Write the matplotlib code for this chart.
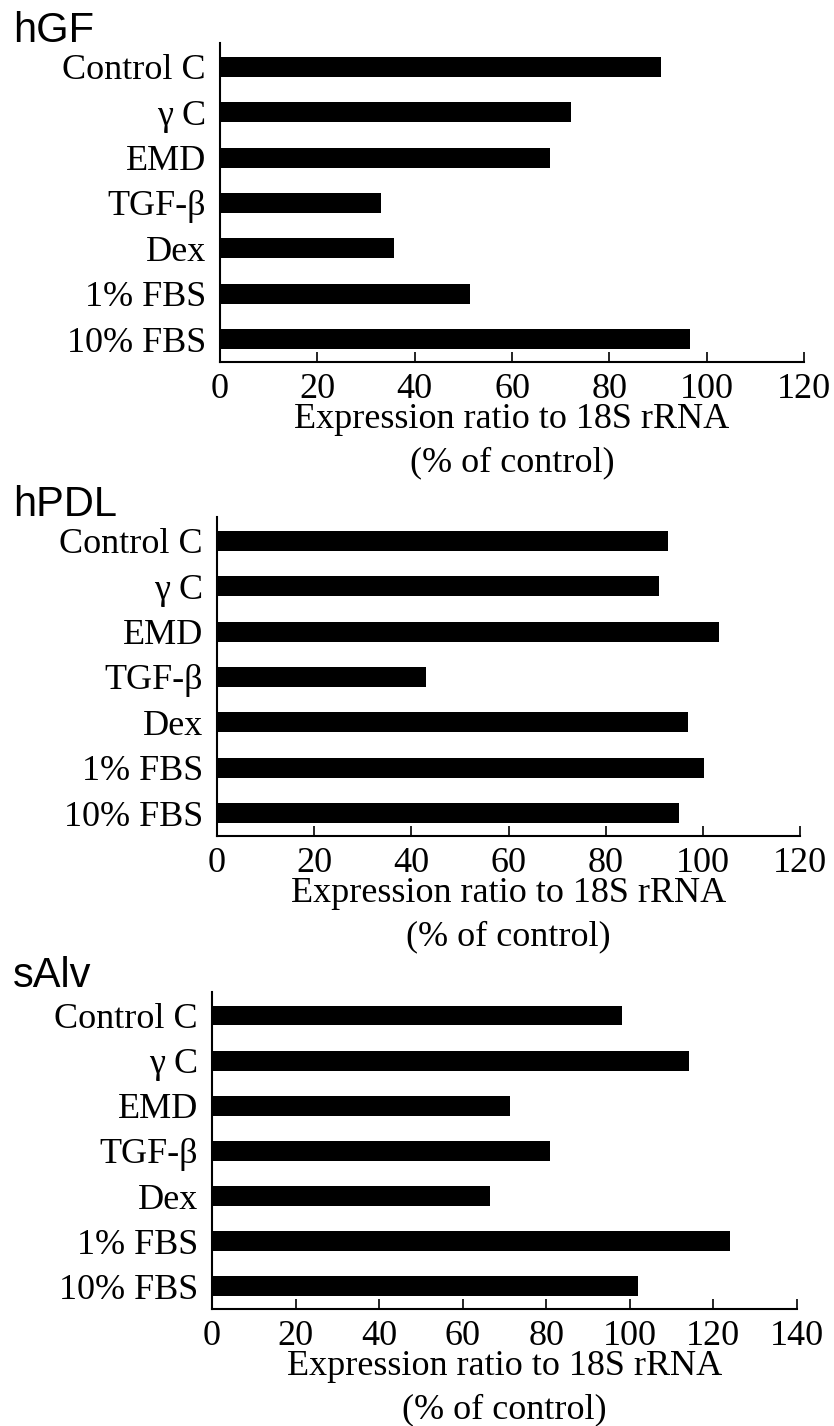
import numpy as np
import matplotlib.pyplot as plt

#--------------------------------------
treatments = ["Control C", "\u03b3 C", "EMD", "TGF-\u03b2", "Dex", "1% FBS", "10% FBS"]

hgf = [90.7, 72.2, 67.8, 33.1, 35.7, 51.3, 96.5]
hpdl = [92.9, 91.0, 103.4, 43.0, 96.9, 100.3, 95.1]
salv = [98.2, 114.2, 71.2, 81.0, 66.6, 124.0, 101.9]

panel_names = ["hGF", "hPDL", "sAlv"]
xmax = [120, 120, 140]
xlabel = "Expression ratio to 18S rRNA\n(% of control)"

#--------------------------------------
W, H = 834, 1426
plt.rcParams['font.family'] = ['Liberation Serif', 'DejaVu Serif']

fig = plt.figure(figsize=(W / 100, H / 100), dpi=100)

# axes boxes in pixels: left, right, top, bottom
boxes = [(220, 804, 43, 362),
         (217, 800, 517, 836),
         (212, 797, 992, 1309)]
title_base = [42, 516, 987]

for vals, name, xm, box, tb in zip([hgf, hpdl, salv], panel_names, xmax, boxes, title_base):
    l, r, t, b = box
    ax = fig.add_axes([l / W, 1 - b / H, (r - l) / W, (b - t) / H])
    y = np.arange(len(treatments))
    ax.barh(y, vals, height=0.44, color='black')
    ax.set_ylim(6.5, -0.52)
    ax.set_xlim(0, xm)
    ax.set_xticks(np.arange(0, xm + 1, 20))
    ax.set_yticks(y)
    ax.set_yticklabels(treatments)
    ax.tick_params(axis='x', direction='in', length=7, width=1.2, labelsize=26, pad=8)
    ax.tick_params(axis='y', length=0, labelsize=26, pad=10)
    for s in ['top', 'right']:
        ax.spines[s].set_visible(False)
    for s in ['left', 'bottom']:
        ax.spines[s].set_linewidth(1.5)
    ax.set_xlabel(xlabel, fontsize=26, linespacing=1.4, labelpad=-2)
    fig.text(13 / W, 1 - tb / H, name, family='Liberation Sans', fontsize=30, va='baseline', ha='left')

fig.savefig("out.png", dpi=100)
